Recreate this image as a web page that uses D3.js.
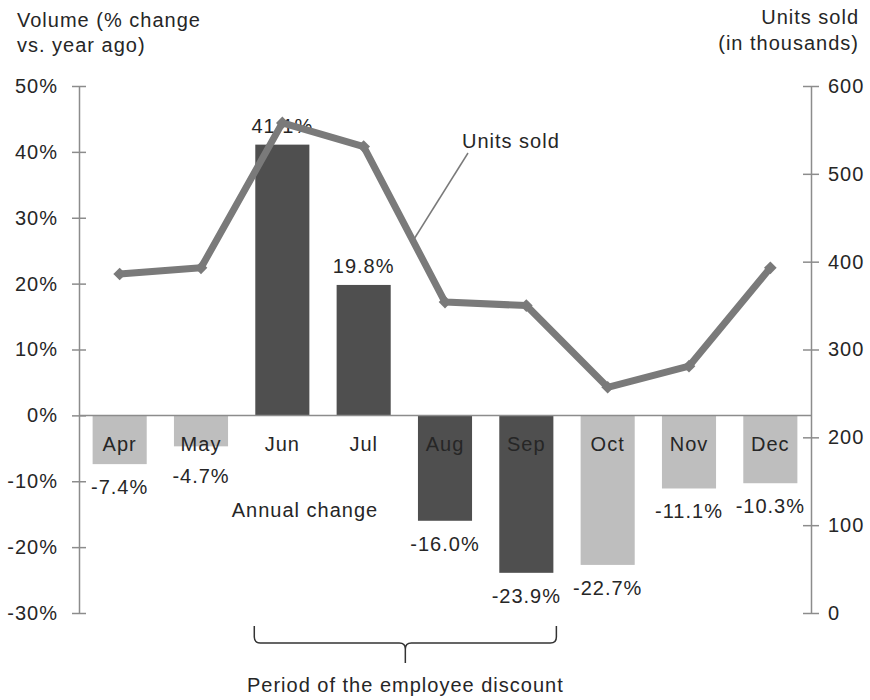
<!DOCTYPE html>
<html>
<head>
<meta charset="utf-8">
<script src="https://cdn.jsdelivr.net/npm/d3@7"></script>
<style>
  body { margin: 0; background: #fff; }
  svg text { font-family: 'Liberation Sans', Arial, sans-serif; font-size: 20px; letter-spacing: 1px; fill: #262626; }
</style>
</head>
<body>
<svg id="chart" width="870" height="700"></svg>
<script>
// data
var months = ['Apr', 'May', 'Jun', 'Jul', 'Aug', 'Sep', 'Oct', 'Nov', 'Dec'];
var annualChange = [-7.4, -4.7, 41.1, 19.8, -16.0, -23.9, -22.7, -11.1, -10.3];
var unitsSold = [386, 393, 558, 531, 354, 350, 257, 281, 393];
var discountMonths = ['Jun', 'Jul', 'Aug', 'Sep'];
var pctTicks = [-30, -20, -10, 0, 10, 20, 30, 40, 50];
var unitTicks = [0, 100, 200, 300, 400, 500, 600];

var svg = d3.select('#chart');

var x = d3.scaleBand()
  .domain(months)
  .range([79, 811])
  .paddingInner(0.335)
  .paddingOuter(0.1675);

var yL = d3.scaleLinear().domain([-30, 50]).range([613, 86]);
var yR = d3.scaleLinear().domain([0, 600]).range([613, 86]);

var rows = months.map(function(m, i) {
  return { month: m, pct: annualChange[i], units: unitsSold[i], discount: discountMonths.indexOf(m) >= 0 };
});

// bars
svg.append('g').selectAll('rect')
  .data(rows)
  .enter()
  .append('rect')
  .attr('x', function(d) { return x(d.month); })
  .attr('width', x.bandwidth())
  .attr('y', function(d) { return yL(Math.max(0, d.pct)); })
  .attr('height', function(d) { return Math.abs(yL(d.pct) - yL(0)); })
  .attr('fill', function(d) { return d.discount ? '#4f4f4f' : '#bebebe'; });

// zero line
svg.append('line')
  .attr('x1', 79).attr('x2', 811)
  .attr('y1', yL(0)).attr('y2', yL(0))
  .attr('stroke', '#8c8c8c').attr('stroke-width', 1.5);

// left axis
var leftAxis = svg.append('g')
  .attr('transform', 'translate(79,0)')
  .call(d3.axisLeft(yL).tickValues(pctTicks).tickFormat(function(d) { return d + '%'; })
    .tickSizeInner(7).tickSizeOuter(0).tickPadding(14));
leftAxis.selectAll('.tick line').attr('x1', 7).attr('x2', -7);

// right axis
var rightAxis = svg.append('g')
  .attr('transform', 'translate(811,0)')
  .call(d3.axisRight(yR).tickValues(unitTicks).tickSizeInner(8).tickSizeOuter(0).tickPadding(9));
rightAxis.selectAll('.tick line').attr('x1', -8).attr('x2', 8);

svg.selectAll('.domain, .tick line').attr('stroke', '#8c8c8c').attr('stroke-width', 1.5);
svg.selectAll('.tick text')
  .attr('fill', '#262626')
  .style('font-family', "'Liberation Sans', Arial, sans-serif")
  .style('font-size', '20px');

// month labels inside the bars
svg.append('g').selectAll('text')
  .data(rows)
  .enter()
  .append('text')
  .attr('x', function(d) { return x(d.month) + x.bandwidth() / 2; })
  .attr('y', yL(0) + 36)
  .attr('text-anchor', 'middle')
  .text(function(d) { return d.month; });

// value labels
svg.append('g').selectAll('text')
  .data(rows)
  .enter()
  .append('text')
  .attr('x', function(d) { return x(d.month) + x.bandwidth() / 2; })
  .attr('y', function(d) {
    if (d.pct >= 0) return yL(d.pct) - 12;
    return Math.max(yL(d.pct) + 30, yL(0) + 68);
  })
  .attr('text-anchor', 'middle')
  .text(function(d) { return d.pct.toFixed(1) + '%'; });

// units sold line
var line = d3.line()
  .x(function(d) { return x(d.month) + x.bandwidth() / 2; })
  .y(function(d) { return yR(d.units); });

svg.append('path')
  .datum(rows)
  .attr('d', line)
  .attr('fill', 'none')
  .attr('stroke', '#7a7a7a')
  .attr('stroke-width', 7)
  .attr('stroke-linejoin', 'round');

svg.append('g').selectAll('path')
  .data(rows)
  .enter()
  .append('path')
  .attr('d', d3.symbol().type(d3.symbolSquare).size(80))
  .attr('transform', function(d) {
    return 'translate(' + (x(d.month) + x.bandwidth() / 2) + ',' + yR(d.units) + ') rotate(45)';
  })
  .attr('fill', '#7a7a7a');

// "Units sold" callout
var jul = rows[3], aug = rows[4];
var t = 0.62;
var lx = (x(jul.month) + x.bandwidth() / 2) * (1 - t) + (x(aug.month) + x.bandwidth() / 2) * t;
var ly = yR(jul.units) * (1 - t) + yR(aug.units) * t - 4;
svg.append('line')
  .attr('x1', lx).attr('y1', ly)
  .attr('x2', 468).attr('y2', 153)
  .attr('stroke', '#7a7a7a').attr('stroke-width', 1.5);
svg.append('text').attr('x', 462).attr('y', 148).text('Units sold');

svg.append('text').attr('x', 305).attr('y', 517).attr('text-anchor', 'middle').text('Annual change');

// axis titles
var leftTitle = svg.append('text').attr('x', 17).attr('y', 27);
leftTitle.append('tspan').attr('x', 17).text('Volume (% change');
leftTitle.append('tspan').attr('x', 17).attr('y', 52).text('vs. year ago)');

var rightTitle = svg.append('text').attr('text-anchor', 'end').attr('y', 24);
rightTitle.append('tspan').attr('x', 859).text('Units sold');
rightTitle.append('tspan').attr('x', 859).attr('y', 50).text('(in thousands)');

// bracket under the discount period
var bx0 = x(discountMonths[0]) - 1;
var bx1 = x(discountMonths[discountMonths.length - 1]) + x.bandwidth() + 3;
var bmid = (bx0 + bx1) / 2;
var bTop = 626, bHy = 643, bBot = 663, br = 6;
svg.append('path')
  .attr('d',
    'M' + bx0 + ',' + bTop + ' V' + (bHy - br) + ' Q' + bx0 + ',' + bHy + ' ' + (bx0 + br) + ',' + bHy +
    ' H' + (bmid - br) + ' Q' + bmid + ',' + bHy + ' ' + bmid + ',' + (bHy + br) + ' V' + bBot +
    ' M' + bmid + ',' + (bHy + br) + ' Q' + bmid + ',' + bHy + ' ' + (bmid + br) + ',' + bHy +
    ' H' + (bx1 - br) + ' Q' + bx1 + ',' + bHy + ' ' + bx1 + ',' + (bHy - br) + ' V' + bTop)
  .attr('fill', 'none')
  .attr('stroke', '#333')
  .attr('stroke-width', 1.5);

svg.append('text')
  .attr('x', bmid)
  .attr('y', 692)
  .attr('text-anchor', 'middle')
  .text('Period of the employee discount');
</script>
</body>
</html>
